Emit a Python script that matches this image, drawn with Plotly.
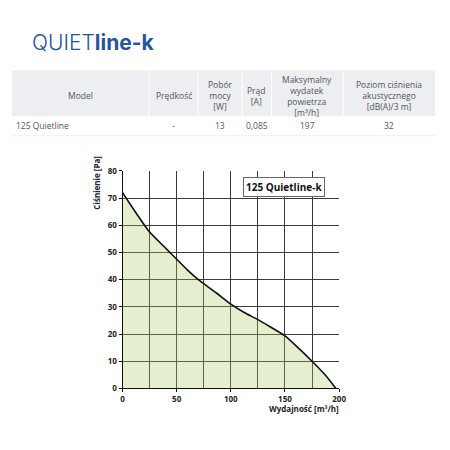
import plotly.graph_objects as go

# ---- data ----
flow = [0, 10, 25, 40, 50, 60, 70, 75, 87, 100, 112, 125, 137, 150, 162, 175, 187, 197]
pressure = [72, 66, 57.5, 51.5, 47.5, 43.5, 40, 38.5, 35, 31, 28, 25.3, 22.5, 19.3, 15, 10, 5, 0]

x_ticks = [0, 50, 100, 150, 200]
y_ticks = [0, 10, 20, 30, 40, 50, 60, 70, 80]

table_headers = ["Model", "Prędkość", "Pobór<br>mocy<br>[W]", "Prąd<br>[A]",
                 "Maksymalny<br>wydatek<br>powietrza<br>[m³/h]",
                 "Poziom ciśnienia<br>akustycznego<br>[dB(A)/3 m]"]
table_row = ["125 Quietline", "-", "13", "0,085", "197", "32"]
col_edges = [10, 150, 200, 245, 275, 348, 442]  # pixel column boundaries

W = H = 450
def px(x):
    return x / W
def py(y):
    return 1 - y / H

fig = go.Figure()
fig.add_trace(go.Scatter(
    x=flow, y=pressure, mode="lines",
    line=dict(color="#111111", width=1.6, shape="spline", smoothing=0.6),
    fill="tozeroy", fillcolor="rgba(165,202,98,0.3)",
    hoverinfo="skip", showlegend=False,
))

shapes = []
annotations = []

# title
annotations.append(dict(
    x=px(29), y=py(37), xref="paper", yref="paper", xanchor="left", yanchor="middle",
    text="QUIET<b>line-k</b>", showarrow=False,
    font=dict(family="Inter", size=21, color="#25559a", weight=300),
))

# table header background
shapes.append(dict(type="rect", xref="paper", yref="paper",
                   x0=px(col_edges[0]), x1=px(col_edges[-1]), y0=py(113), y1=py(66),
                   fillcolor="#eceef2", line=dict(width=0), layer="below"))
for e in col_edges[1:-1]:
    shapes.append(dict(type="line", xref="paper", yref="paper",
                       x0=px(e), x1=px(e), y0=py(113), y1=py(66),
                       line=dict(color="white", width=1)))
shapes.append(dict(type="line", xref="paper", yref="paper",
                   x0=px(col_edges[0]), x1=px(col_edges[-1]), y0=py(133), y1=py(133),
                   line=dict(color="#eeeeee", width=1)))

tfont = dict(family="Open Sans", size=8.5, color="#555555")
for i, h in enumerate(table_headers):
    cx = (col_edges[i] + col_edges[i + 1]) / 2
    annotations.append(dict(x=px(cx), y=py(92), xref="paper", yref="paper",
                            xanchor="center", yanchor="middle", text=h, showarrow=False,
                            font=tfont, align="center"))
for i, v in enumerate(table_row):
    if i == 0:
        annotations.append(dict(x=px(col_edges[0] + 2), y=py(122), xref="paper", yref="paper",
                                xanchor="left", yanchor="middle", text=v, showarrow=False,
                                font=tfont))
    else:
        cx = (col_edges[i] + col_edges[i + 1]) / 2
        annotations.append(dict(x=px(cx), y=py(122), xref="paper", yref="paper",
                                xanchor="center", yanchor="middle", text=v, showarrow=False,
                                font=tfont))

# chart annotations
annotations.append(dict(x=149, y=74.1, xref="x", yref="y", text="<b>125 Quietline-k</b>",
                        showarrow=False, bgcolor="white", bordercolor="#666666", borderwidth=1,
                        borderpad=2, font=dict(family="Open Sans", size=10, color="#111111")))
annotations.append(dict(x=px(97), y=py(181), xref="paper", yref="paper", textangle=-90,
                        text="<b>Ciśnienie [Pa]</b>", showarrow=False,
                        xanchor="center", yanchor="middle",
                        font=dict(family="Open Sans", size=8, color="#222222")))
annotations.append(dict(x=px(346), y=py(413), xref="paper", yref="paper",
                        text="<b>Wydajność [m³/h]</b>", showarrow=False,
                        xanchor="right", yanchor="middle",
                        font=dict(family="Open Sans", size=8, color="#222222")))

axis_font = dict(family="Open Sans", size=8, color="#222222", weight="bold")
fig.update_layout(
    width=W, height=H, margin=dict(l=0, r=0, t=0, b=0),
    paper_bgcolor="white", plot_bgcolor="white",
    shapes=shapes, annotations=annotations,
    xaxis=dict(domain=[px(123), px(344)], range=[0, 200], tickvals=x_ticks,
               showgrid=True, gridcolor="#3a3a3a", gridwidth=1,
               showline=True, linecolor="#111111", linewidth=1, mirror=False,
               ticks="outside", ticklen=3, tickcolor="#111111",
               tickfont=axis_font, zeroline=False,
               minor=dict(tickvals=[25, 75, 125, 175], showgrid=True, gridcolor="#3a3a3a", gridwidth=1)),
    yaxis=dict(domain=[py(392), py(169)], range=[0, 80], tickvals=y_ticks,
               showgrid=True, gridcolor="#3a3a3a", gridwidth=1,
               showline=True, linecolor="#111111", linewidth=1,
               ticks="outside", ticklen=3, tickcolor="#111111",
               tickfont=axis_font, zeroline=False),
)
fig.write_html("out.html")
